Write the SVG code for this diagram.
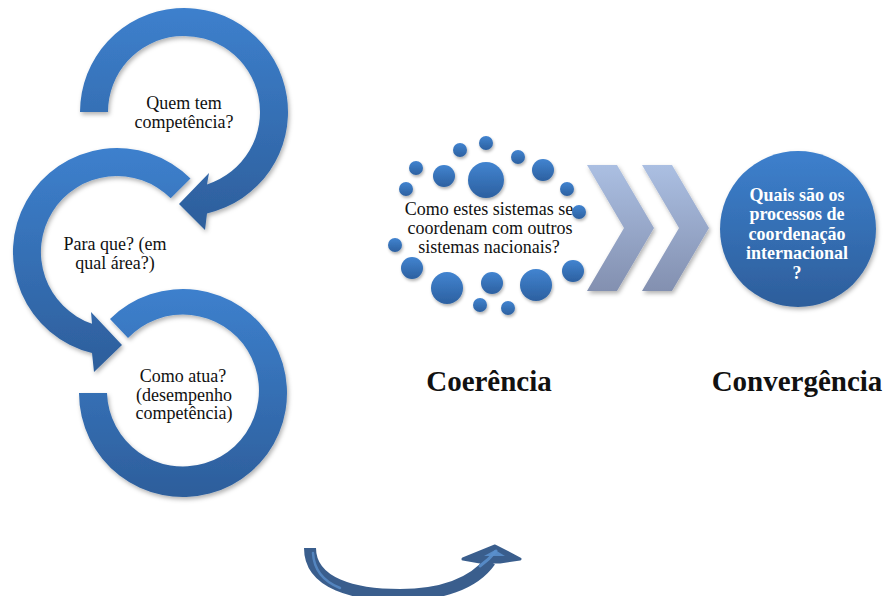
<svg xmlns="http://www.w3.org/2000/svg" width="885" height="596" viewBox="0 0 885 596">
  <defs>
    <linearGradient id="blueV" x1="0" y1="0" x2="0" y2="1">
      <stop offset="0" stop-color="#3d80cd"/>
      <stop offset="1" stop-color="#2d5e9b"/>
    </linearGradient>
    <linearGradient id="dotG" x1="0" y1="0" x2="0" y2="1">
      <stop offset="0" stop-color="#4284d0"/>
      <stop offset="1" stop-color="#2c60a0"/>
    </linearGradient>
    <linearGradient id="chevG" x1="0" y1="0" x2="0" y2="1">
      <stop offset="0" stop-color="#abbfe2"/>
      <stop offset="1" stop-color="#8390b0"/>
    </linearGradient>
    <filter id="shadow" x="-20%" y="-20%" width="140%" height="140%">
      <feDropShadow dx="1.5" dy="2.5" stdDeviation="2" flood-color="#000" flood-opacity="0.3"/>
    </filter>
    <filter id="softShadow" x="-40%" y="-40%" width="180%" height="180%">
      <feDropShadow dx="1" dy="2" stdDeviation="1.5" flood-color="#000" flood-opacity="0.3"/>
    </filter>
  </defs>
  <style>
    .ring { fill: url(#blueV); filter: url(#shadow); }
    .dot { fill: url(#dotG); filter: url(#softShadow); }
    .chev { fill: url(#chevG); filter: url(#shadow); }
    .lbl { font-family: "Liberation Serif", "Times New Roman", serif; font-size: 18px; fill: #111; text-anchor: middle; }
    .lblW { font-family: "Liberation Serif", "Times New Roman", serif; font-size: 18px; font-weight: bold; fill: #fff; text-anchor: middle; }
    .title { font-family: "Liberation Serif", "Times New Roman", serif; font-size: 29px; font-weight: bold; fill: #111; text-anchor: middle; }
  </style>

  <rect width="885" height="596" fill="#fff"/>

  <!-- Cycle of three circular arrows -->
  <g id="ring-quem">
    <path class="ring" d="M80,112 A104,104 0 1 1 207,213.4 L205,230 L179,204 L209,173 L207,184.4 A76,76 0 1 0 108,112 Z"/>
    <text class="lbl" x="184" y="109">Quem tem</text>
    <text class="lbl" x="184" y="127.5">competência?</text>
  </g>

  <g id="ring-para">
    <path class="ring" d="M190.5,178.5 A104,104 0 1 0 92,353 L94,372 L122,345 L91,312 L92,323.8 A76,76 0 1 1 170.7,198.3 Z"/>
    <text class="lbl" x="115" y="250">Para que? (em</text>
    <text class="lbl" x="115" y="269">qual área?)</text>
  </g>

  <g id="ring-como">
    <path class="ring" d="M110,319 A104,104 0 1 1 79,393 L107,393 A76,76 0 1 0 128,338 Z"/>
    <text class="lbl" x="183" y="382">Como atua?</text>
    <text class="lbl" x="184" y="400.5">(desempenho</text>
    <text class="lbl" x="184" y="419">competência)</text>
  </g>

  <!-- Cluster of dots around the coherence question -->
  <g id="dots-coerencia">
    <circle class="dot" cx="486" cy="143" r="7"/>
    <circle class="dot" cx="460" cy="150" r="7"/>
    <circle class="dot" cx="518" cy="157" r="7"/>
    <circle class="dot" cx="416" cy="168" r="7"/>
    <circle class="dot" cx="444" cy="176" r="11"/>
    <circle class="dot" cx="486" cy="180" r="18"/>
    <circle class="dot" cx="543" cy="170" r="11"/>
    <circle class="dot" cx="406" cy="189" r="7"/>
    <circle class="dot" cx="567" cy="189" r="7"/>
    <circle class="dot" cx="395" cy="245" r="7"/>
    <circle class="dot" cx="412" cy="268" r="11"/>
    <circle class="dot" cx="573" cy="271" r="11"/>
    <circle class="dot" cx="447" cy="288" r="16"/>
    <circle class="dot" cx="492" cy="283" r="11"/>
    <circle class="dot" cx="536" cy="285" r="16"/>
    <circle class="dot" cx="480" cy="305" r="7"/>
    <circle class="dot" cx="508" cy="308" r="7"/>
    <text class="lbl" x="489" y="215">Como estes sistemas se</text>
    <circle class="dot" cx="579" cy="212" r="7"/>
    <text class="lbl" x="490" y="234">coordenam com outros</text>
    <text class="lbl" x="489" y="253">sistemas nacionais?</text>
  </g>

  <!-- Chevrons -->
  <g id="chevrons">
    <path class="chev" d="M587,165 L617,165 L654,228 L617,291 L587,291 L624,228 Z"/>
    <path class="chev" d="M642,165 L672,165 L709,228 L672,291 L642,291 L679,228 Z"/>
  </g>

  <!-- International coordination circle -->
  <g id="circle-convergencia">
    <circle cx="798" cy="229" r="78" fill="url(#blueV)" filter="url(#shadow)"/>
    <text class="lblW" x="797" y="200.5">Quais são os</text>
    <text class="lblW" x="797" y="220">processos de</text>
    <text class="lblW" x="797" y="239.5">coordenação</text>
    <text class="lblW" x="797" y="259">internacional</text>
    <text class="lblW" x="797" y="278.5">?</text>
  </g>

  <!-- Headings -->
  <g id="headings">
    <text class="title" x="489" y="391">Coerência</text>
    <text class="title" x="797" y="391">Convergência</text>
  </g>

  <!-- Curved arrow at the bottom -->
  <g id="connectors">
    <path d="M310,548 C310,584 355,595 400,595 C440,595 474,584 490,561" fill="none" stroke="#3a5e8d" stroke-width="12" stroke-linejoin="round"/>
    <polygon points="463,559 495,546 520,559 500,562 480,562" fill="#3a5e8d" stroke="#3a5e8d" stroke-width="3" stroke-linejoin="round"/>
    <path d="M313,553 C314,572 325,582 340,588" fill="none" stroke="#5a8fcc" stroke-width="2.5" stroke-linecap="round" opacity="0.8"/>
    <path d="M480,566 C487,561 492,556 496,551" fill="none" stroke="#5a8fcc" stroke-width="3" stroke-linecap="round" opacity="0.9"/>
    <polygon points="484,556 495,550 505,556" fill="#5a8fcc" opacity="0.9"/>
  </g>
</svg>
